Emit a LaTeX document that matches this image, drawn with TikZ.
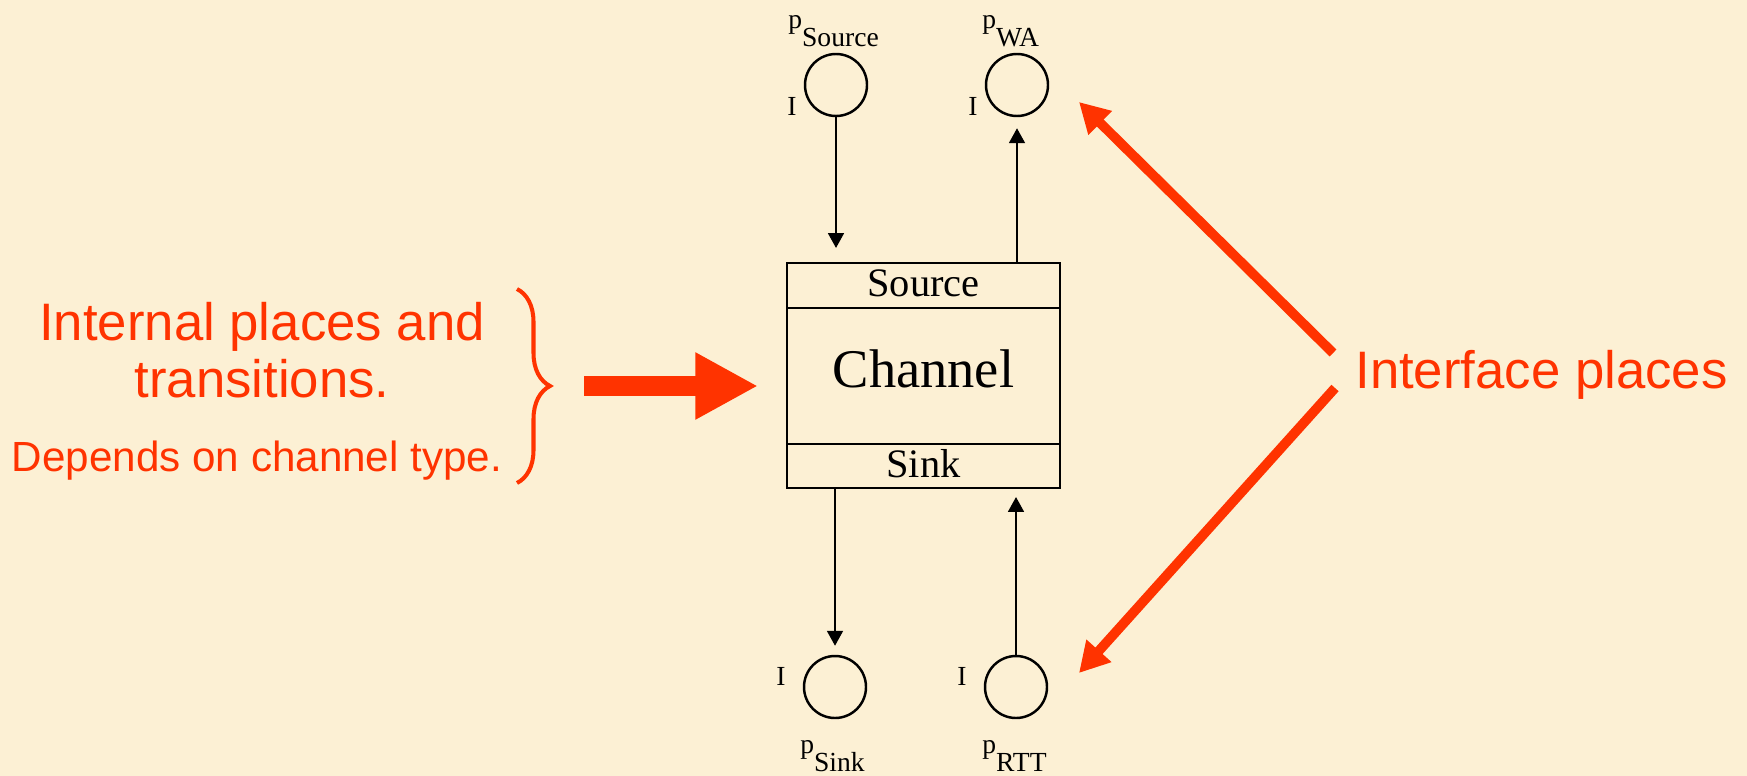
\documentclass[tikz,border=0pt]{standalone}
\usepackage{fontspec}
\setmainfont{Liberation Serif}
\newfontfamily\arialf{Liberation Sans}
\usetikzlibrary{arrows.meta,calc,positioning,decorations.pathreplacing}
\definecolor{parch}{RGB}{252,240,212}
\definecolor{hot}{RGB}{255,51,0}
\newcommand{\pl}[1]{p\raisebox{-10.8pt}{#1}}
\begin{document}
\begin{tikzpicture}[
  x=0.2mm, y=-0.2mm,
  place/.style={draw,circle,line width=1.4pt,minimum size=12.4mm,inner sep=0pt},
  part/.style={draw,line width=1.6pt,minimum width=54.6mm,outer sep=0pt,
    inner sep=0pt,font=\fontsize{23}{26}\selectfont,text depth=3pt},
  arc/.style={line width=1.3pt,-{Triangle[length=8.5pt,width=9pt]}},
  io/.style={font=\fontsize{15.7}{18}\selectfont,inner sep=0pt},
  pname/.style={io,anchor=base west},
  hint/.style={text=hot,font=\arialf\fontsize{30}{32.3}\selectfont,
    align=center,inner sep=0pt},
  callout/.style={draw=hot,line width=5.5pt,-{Triangle[length=17pt,width=18pt]}}]
\useasboundingbox (0,0) rectangle (1747,776);
\fill[parch] (0,0) rectangle (1747,776);

\node[place] (psrc) at (836,85) {};
\node[place] (pwa) at (1017,85) {};
\node[place] (psnk) at (835,687) {};
\node[place] (prtt) at (1016,687) {};

\node[part,minimum height=9mm] (src) at (923.5,285.5) {Source};
\node[part,minimum height=27.2mm,below=0pt of src,
  font=\fontsize{31}{34}\selectfont,text depth=8.7pt] (chan) {Channel};
\node[part,minimum height=8.8mm,below=0pt of chan] (snk) {Sink};

\draw[arc,shorten >=3mm] (psrc.south) -- (psrc |- src.north);
\draw[arc,shorten >=2.2mm] (pwa |- src.north) -- (pwa.south);
\draw[arc,shorten >=1.8mm] (psnk |- snk.south) -- (psnk.north);
\draw[arc,shorten >=1.8mm] (prtt.north) -- (prtt |- snk.south);

\node[io] (isrc) at ($(psrc)+(-44,21)$) {I};
\node[io] (iwa) at ($(pwa)+(-44,21)$) {I};
\node[io] (isnk) at ($(psnk)+(-54,-11)$) {I};
\node[io] (irtt) at ($(prtt)+(-54,-11)$) {I};
\node[pname] (lsrc) at ($(psrc)+(-48,-57)$) {\pl{Source}};
\node[pname] (lwa) at ($(pwa)+(-35,-57)$) {\pl{WA}};
\node[pname] (lsnk) at ($(psnk)+(-35,66)$) {\pl{Sink}};
\node[pname] (lrtt) at ($(prtt)+(-34,66)$) {\pl{RTT}};

\node[hint,anchor=base] (intl) at (262,397) {Internal places and\\transitions.};
\node[hint,anchor=base,font=\arialf\fontsize{24}{26}\selectfont] (dep)
  at (257,471) {Depends on channel type.};
\coordinate (btop) at (517,289);
\coordinate (bbot) at (517,483);
\coordinate (btip) at (550,386);
\draw[hot,line width=2.3pt,decorate,decoration={brace,amplitude=6.6mm}]
  (btop) -- (bbot);
\draw[hot,line width=11.3pt,-{Triangle[length=35.7pt,width=35.7pt]},
  shorten <=6.8mm,shorten >=5.8mm] (btip) -- (btip -| chan.west);

\node[hint,anchor=base west] (ifc) at (1355,388) {Interface places};
\coordinate (up) at (1333,353);
\coordinate (dn) at (1335,388);
\coordinate (waTip) at (1079,102);
\coordinate (rttTip) at (1079,673);
\draw[callout] (up) -- (waTip);
\draw[callout] (dn) -- (rttTip);
\end{tikzpicture}
\end{document}
